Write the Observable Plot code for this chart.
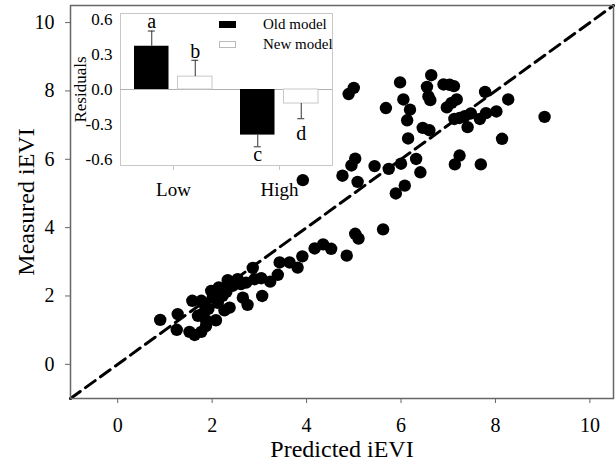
<!DOCTYPE html>
<html><head><meta charset="utf-8">
<script src="https://cdn.jsdelivr.net/npm/d3@7"></script>
<script src="https://cdn.jsdelivr.net/npm/@observablehq/plot@0.6"></script>
<style>
body{margin:0;background:#fff;}
#wrap{position:relative;width:616px;height:462px;font-family:"Liberation Serif",serif;}
#wrap svg{position:absolute;display:block;}
.sw{position:absolute;width:17px;height:7px;box-sizing:border-box;}
.lt{position:absolute;font-size:15px;line-height:15px;white-space:nowrap;color:#000;}
</style></head><body><div id="wrap"></div>
<script>
// Main scatter data
const predicted = [
  0.90,1.27,1.25,1.52,1.63,1.77,1.58,1.77,1.70,1.80,1.87,1.87,1.98,2.01,2.08,2.14,2.22,2.26,2.33,2.37,
  2.44,2.54,2.61,2.65,2.75,2.72,2.86,2.90,3.04,3.06,3.23,3.39,3.43,3.64,3.81,3.91,4.17,4.35,4.52,4.85,
  1.92,2.12,2.30,2.05,1.85,
  5.03,5.10,5.62,
  4.89,5.00,5.68,5.98,6.05,6.19,6.13,6.15,6.55,6.64,6.58,6.62,6.90,7.03,7.12,7.18,7.07,6.97,6.46,6.60,
  7.13,7.24,7.35,7.48,7.41,7.67,7.80,8.02,7.78,8.27,9.04,8.14,7.24,7.14,7.69,6.32,6.00,6.41,5.74,6.08,
  5.89,5.44,5.03,4.95,4.76,5.08,3.92
];
const measured = [
  1.30,1.47,1.01,0.95,0.86,0.95,1.86,1.86,1.42,1.48,1.29,1.12,2.15,1.95,1.29,2.25,2.00,1.58,2.46,1.66,
  2.30,2.49,2.35,1.95,1.74,2.39,2.82,2.49,2.52,2.00,2.42,2.62,2.98,2.98,2.83,3.16,3.39,3.51,3.38,3.18,
  1.62,1.80,2.12,2.08,1.72,
  3.82,3.68,3.95,
  7.91,8.09,7.50,8.25,7.75,7.45,7.14,6.61,8.12,8.46,7.84,7.73,8.19,8.18,8.14,7.75,7.65,7.52,6.92,6.85,
  7.18,7.21,7.26,7.34,6.94,7.18,7.35,7.40,7.97,7.75,7.24,6.60,6.11,5.85,5.85,6.01,5.87,5.62,5.72,5.23,
  5.00,5.80,6.02,5.82,5.52,5.34,5.39
];
const axisRange = [-1, 10.5];
const xTicks = [0, 2, 4, 6, 8, 10];
const yTicks = [0, 2, 4, 6, 8, 10];

// Inset data
const groups = ["Low", "High"];
const models = ["Old model", "New model"];
const oldResid = [0.37, -0.39];
const newResid = [0.11, -0.12];
const oldErr = [0.13, 0.10];
const newErr = [0.14, 0.13];
const oldLetters = ["a", "c"];
const newLetters = ["b", "d"];
const residTicks = [-0.6, -0.3, 0, 0.3, 0.6];
const residRange = [-0.65, 0.65];

const points = predicted.map((p, i) => ({x: p, y: measured[i]}));
const rows = groups.flatMap((g, i) => [
  {group: g, model: models[0], value: oldResid[i], err: oldErr[i], letter: oldLetters[i]},
  {group: g, model: models[1], value: newResid[i], err: newErr[i], letter: newLetters[i]}
]);
const tip = d => d.value + Math.sign(d.value) * d.err;
const isOld = d => d.model === models[0];

const wrap = document.getElementById("wrap");

const main = Plot.plot({
  width: 616, height: 462,
  marginLeft: 70, marginRight: 3, marginTop: 5, marginBottom: 64,
  style: {fontFamily: "Liberation Serif", background: "white", color: "black"},
  x: {domain: axisRange},
  y: {domain: axisRange},
  marks: [
    Plot.line(axisRange, {x: d => d, y: d => d, stroke: "black", strokeWidth: 3, strokeDasharray: "12,6.5"}),
    Plot.dot(points, {x: "x", y: "y", r: 6.2, fill: "black"}),
    Plot.frame({stroke: "#666", strokeWidth: 1.5}),
    Plot.axisX({ticks: xTicks, tickSize: 5, tickPadding: 14, fontSize: 20, stroke: "#666", label: null}),
    Plot.axisX({ticks: [], label: "Predicted iEVI", labelArrow: "none", labelAnchor: "center", labelOffset: 58, fontSize: 24}),
    Plot.axisY({ticks: yTicks, tickSize: 5, tickPadding: 11, fontSize: 20, stroke: "#666", label: null}),
    Plot.axisY({ticks: [], label: "Measured iEVI", labelArrow: "none", labelAnchor: "center", labelOffset: 54, fontSize: 24})
  ]
});
main.style.left = "0px"; main.style.top = "0px";
wrap.appendChild(main);

const inset = Plot.plot({
  width: 270, height: 195,
  marginLeft: 48, marginRight: 10, marginTop: 5, marginBottom: 38,
  style: {fontFamily: "Liberation Serif", background: "transparent", color: "black", overflow: "visible"},
  x: {type: "band", domain: groups, padding: 0},
  y: {domain: residRange},
  marks: [
    Plot.frame({stroke: "#c8c8c8"}),
    Plot.ruleY([0], {stroke: "#b0b0b0"}),
    Plot.barY(rows.filter(isOld), {x: "group", y: "value", fill: "black", insetLeft: 14, insetRight: 57.5}),
    Plot.barY(rows.filter(d => !isOld(d)), {x: "group", y: "value", fill: "white", stroke: "#c8c8c8", insetLeft: 57.5, insetRight: 14}),
    Plot.ruleX(rows.filter(isOld), {x: "group", y1: "value", y2: tip, dx: -21.75, stroke: "#333"}),
    Plot.ruleX(rows.filter(d => !isOld(d)), {x: "group", y1: "value", y2: tip, dx: 21.75, stroke: "#333"}),
    Plot.tickY(rows.filter(isOld), {x: "group", y: tip, dx: -21.75, insetLeft: 49.5, insetRight: 49.5, stroke: "#333"}),
    Plot.tickY(rows.filter(d => !isOld(d)), {x: "group", y: tip, dx: 21.75, insetLeft: 49.5, insetRight: 49.5, stroke: "#333"}),
    Plot.text(rows.filter(d => d.value > 0 && isOld(d)), {x: "group", y: tip, text: "letter", dx: -21.75, dy: -9, fontSize: 20}),
    Plot.text(rows.filter(d => d.value > 0 && !isOld(d)), {x: "group", y: tip, text: "letter", dx: 21.75, dy: -9, fontSize: 20}),
    Plot.text(rows.filter(d => d.value < 0 && isOld(d)), {x: "group", y: tip, text: "letter", dx: -21.75, dy: 8, fontSize: 20}),
    Plot.text(rows.filter(d => d.value < 0 && !isOld(d)), {x: "group", y: tip, text: "letter", dx: 21.75, dy: 15, fontSize: 20}),
    Plot.axisX({tickSize: 5, tickPadding: 12, fontSize: 19, stroke: "#c8c8c8", label: null}),
    Plot.axisY({ticks: residTicks, tickSize: 0, tickPadding: 8, fontSize: 17, tickFormat: d => d.toFixed(1), label: null}),
    Plot.axisY({ticks: [], label: "Residuals", labelArrow: "none", labelAnchor: "center", labelOffset: 47, fontSize: 17})
  ]
});
inset.style.left = "72px"; inset.style.top = "8px";
wrap.appendChild(inset);

// Legend for the inset
const legend = [
  {name: models[0], bg: "black", border: "none", top: 21, textTop: 16.7},
  {name: models[1], bg: "white", border: "1px solid #bbb", top: 40.5, textTop: 36.7}
];
legend.forEach(l => {
  const s = document.createElement("div");
  s.className = "sw";
  s.style.left = "219px"; s.style.top = l.top + "px";
  s.style.background = l.bg; s.style.border = l.border;
  wrap.appendChild(s);
  const t = document.createElement("div");
  t.className = "lt";
  t.style.left = "263px"; t.style.top = l.textTop + "px";
  t.textContent = l.name;
  wrap.appendChild(t);
});
</script></body></html>
